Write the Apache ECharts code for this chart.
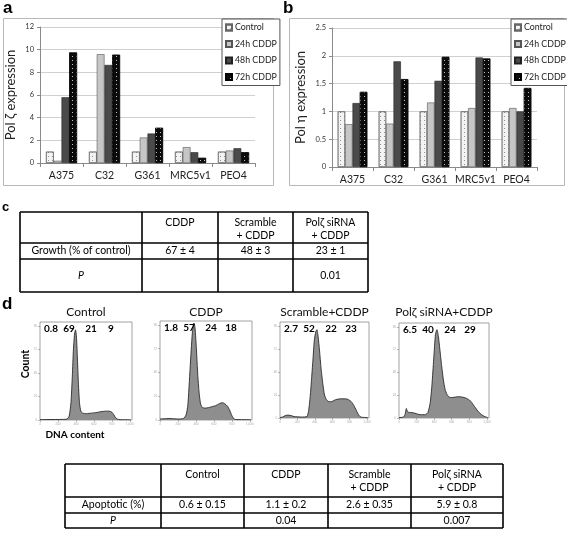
<!DOCTYPE html>
<html><head><meta charset="utf-8">
<script src="https://cdn.jsdelivr.net/npm/echarts@6/dist/echarts.min.js"></script>
<style>html,body{margin:0;padding:0;background:#fff}#c{width:567px;height:558px}</style>
</head><body><div id="c"></div>
<script>
// ---------- DATA ----------
const cellLines = ['A375', 'C32', 'G361', 'MRC5v1', 'PEO4'];
const seriesNames = ['Control', '24h CDDP', '48h CDDP', '72h CDDP'];
const zetaControl = [1, 1, 1, 1, 1];
const zeta24h = [0.2, 9.6, 2.25, 1.4, 1.1];
const zeta48h = [5.8, 8.65, 2.6, 0.95, 1.3];
const zeta72h = [9.75, 9.55, 3.1, 0.45, 0.95];
const etaControl = [1, 1, 1, 1, 1];
const eta24h = [0.77, 0.78, 1.16, 1.06, 1.06];
const eta48h = [1.15, 1.9, 1.55, 1.97, 1.0];
const eta72h = [1.35, 1.58, 1.98, 1.95, 1.42];
const zetaTicks = [0, 2, 4, 6, 8, 10, 12];
const etaTicks = [0, 0.5, 1, 1.5, 2, 2.5];

const growthHeader = ['', 'CDDP', 'Scramble\n+ CDDP', 'Polζ siRNA\n+ CDDP'];
const growthValues = ['Growth (% of control)', '67 ± 4', '48 ± 3', '23 ± 1'];
const growthP = ['P', '', '', '0.01'];

const apoHeader = ['', 'Control', 'CDDP', 'Scramble\n+ CDDP', 'Polζ siRNA\n+ CDDP'];
const apoValues = ['Apoptotic (%)', '0.6 ± 0.15', '1.1 ± 0.2', '2.6 ± 0.35', '5.9 ± 0.8'];
const apoP = ['P', '', '0.04', '', '0.007'];

const histTitles = ['Control', 'CDDP', 'Scramble+CDDP', 'Polζ siRNA+CDDP'];
const phasesControl = ['0.8', '69', '21', '9'];
const phasesCDDP = ['1.8', '57', '24', '18'];
const phasesScramble = ['2.7', '52', '22', '23'];
const phasesSiRNA = ['6.5', '40', '24', '29'];
const dnaTicks = [0, 200, 400, 600, 800, 1000];
const countTicks = [0, 24, 48, 72, 96];

// DNA content (channel) vs count (% of frame height)
const histControl = [[0,0.5],[100,0.5],[250,0.6],[300,1],[325,4],[345,18],[360,45],[372,72],[385,88],[395,92],[405,86],[415,66],[427,38],[440,17],[455,9],[475,7],[520,6.5],[570,7],[620,7.5],[680,8.5],[730,9],[770,9],[800,8],[820,5.5],[840,2.5],[860,1],[890,0.3],[1010,0.2]];
const histCDDP = [[0,1],[100,1.5],[200,1],[260,1.5],[290,5],[310,15],[335,52],[360,88],[378,98],[390,93],[405,72],[420,46],[435,28],[450,17],[468,13],[500,12],[540,12.5],[580,13.5],[620,14.5],[660,16.5],[695,17.5],[720,16.5],[750,14],[775,10],[795,5.5],[815,2],[840,0.5],[1010,0.3]];
const histScramble = [[0,0.5],[30,1],[60,2.5],[90,3],[130,2.5],[160,1.5],[250,1],[310,1.5],[330,8],[350,25],[365,43],[380,62],[395,81],[412,90],[425,92],[438,85],[455,70],[472,52],[492,36],[512,24],[535,19],[565,17],[595,17],[625,18.5],[660,19.5],[700,20],[740,20],[780,19.5],[820,17],[850,13],[878,8],[905,3],[930,1],[1010,0.3]];
const histSiRNA = [[0,0.5],[50,1],[70,4],[84,10],[95,7],[110,6],[160,5.5],[200,4.5],[240,3.5],[300,3.5],[330,6],[355,16],[375,35],[395,62],[415,88],[432,93],[448,86],[465,72],[485,55],[505,40],[525,30],[545,25],[570,22],[600,21.5],[640,22],[680,22.5],[720,22],[760,21],[800,19],[830,16],[860,12],[900,7],[940,3.5],[975,1.5],[1010,0.5]];

// ---------- STYLES / LAYOUT ----------
const FONT = 'Lato, "Noto Sans", sans-serif';
const barStyles = [
  {color: '#f3f3f3', borderColor: '#666', borderWidth: 0.6,
   decal: {symbol: 'rect', symbolSize: 1, dashArrayX: [1, 3], dashArrayY: [1, 3], color: 'rgba(120,120,120,0.8)'}},
  {color: '#c6c6c6', borderColor: '#555', borderWidth: 0.6},
  {color: '#4a4a4a', borderColor: '#222', borderWidth: 0.6},
  {color: '#0b0b0b', borderColor: '#000', borderWidth: 0.6,
   decal: {symbol: 'rect', symbolSize: 1, dashArrayX: [1, 3], dashArrayY: [1, 3], color: 'rgba(255,255,255,0.75)'}}
];

const chart = echarts.init(document.getElementById('c'), null, {renderer: 'canvas', width: 567, height: 558});

const grids = [
  {left: 40, top: 27, width: 215, height: 136},
  {left: 332, top: 28, width: 205, height: 139}
];
const histBoxes = [
  {left: 40, top: 322, width: 92, height: 98},
  {left: 160, top: 321, width: 92, height: 99},
  {left: 280, top: 322, width: 89, height: 96},
  {left: 399, top: 323, width: 90, height: 95}
];
histBoxes.forEach(b => grids.push(Object.assign({show: true, borderColor: '#8a8a8a', borderWidth: 0.8}, b)));

function catAxis(gi) {
  return {
    type: 'category', gridIndex: gi, data: cellLines,
    axisLine: {lineStyle: {color: '#8a8a8a', width: 1}},
    axisTick: {show: true, length: 4, lineStyle: {color: '#8a8a8a'}},
    axisLabel: {interval: 0, fontFamily: FONT, fontSize: 10.5, color: '#222', margin: 7}
  };
}
function valAxis(gi, ticks, name, gap) {
  return {
    type: 'value', gridIndex: gi, min: ticks[0], max: ticks[ticks.length - 1],
    interval: ticks[1] - ticks[0],
    name: name, nameLocation: 'middle', nameGap: gap,
    nameTextStyle: {fontFamily: FONT, fontSize: 13, color: '#222'},
    axisLine: {show: true, lineStyle: {color: '#8a8a8a'}},
    axisTick: {show: true, length: 3, lineStyle: {color: '#8a8a8a'}},
    axisLabel: {fontFamily: FONT, fontSize: 7.5, color: '#333', margin: 6},
    splitLine: {lineStyle: {color: '#c4c4c4', width: 0.8}}
  };
}

const xAxes = [catAxis(0), catAxis(1)];
const yAxes = [valAxis(0, zetaTicks, 'Pol ζ expression', 23), valAxis(1, etaTicks, 'Pol η expression', 25)];
histBoxes.forEach((b, i) => {
  xAxes.push({
    type: 'value', gridIndex: 2 + i, min: 0, max: 1024,
    axisLine: {show: false}, splitLine: {show: false},
    axisTick: {show: true, customValues: dnaTicks, length: 2, lineStyle: {color: '#888', width: 0.6}},
    axisLabel: {customValues: dnaTicks, fontSize: 3, color: '#aaa', margin: 3}
  });
  yAxes.push({
    type: 'value', gridIndex: 2 + i, min: 0, max: 100,
    axisLine: {show: false}, splitLine: {show: false},
    axisTick: {show: true, customValues: countTicks, length: 2, lineStyle: {color: '#888', width: 0.6}},
    axisLabel: {customValues: countTicks, fontSize: 3, color: '#aaa', margin: 3}
  });
});

const series = [];
[[zetaControl, zeta24h, zeta48h, zeta72h], [etaControl, eta24h, eta48h, eta72h]].forEach((sets, gi) => {
  sets.forEach((vals, k) => {
    series.push({
      type: 'bar', name: seriesNames[k], xAxisIndex: gi, yAxisIndex: gi, data: vals,
      barGap: '0%', barCategoryGap: '28%', itemStyle: barStyles[k],
      emphasis: {disabled: true}
    });
  });
});
[histControl, histCDDP, histScramble, histSiRNA].forEach((d, i) => {
  series.push({
    type: 'line', xAxisIndex: 2 + i, yAxisIndex: 2 + i, data: d, symbol: 'none', smooth: 0.2,
    lineStyle: {color: '#2a2a2a', width: 0.9},
    areaStyle: {color: '#8e8e8e', opacity: 1}, z: 3
  });
});

// ---------- GRAPHIC (frames, labels, tables) ----------
const graphic = [];
graphic.push({type: 'rect', shape: {x: 3.5, y: 18.5, width: 270, height: 167}, style: {fill: 'none', stroke: '#b8b8b8', lineWidth: 1}, z: -1});
graphic.push({type: 'rect', shape: {x: 289.5, y: 18.5, width: 275, height: 167}, style: {fill: 'none', stroke: '#b8b8b8', lineWidth: 1}, z: -1});
const panelLetters = [['a', 3, 0, 17], ['b', 283, 0, 17], ['c', 2, 201, 13], ['d', 2, 296, 17]];
panelLetters.forEach(p => graphic.push({type: 'text', left: p[1], top: p[2],
  style: {text: p[0], font: 'bold ' + p[3] + 'px "Liberation Sans", Arial, sans-serif', fill: '#000'}}));

function addTable(xs, ys, rows) {
  const x0 = xs[0], x1 = xs[xs.length - 1], y0 = ys[0], y1 = ys[ys.length - 1];
  ys.forEach(y => graphic.push({type: 'line', shape: {x1: x0, y1: y, x2: x1, y2: y}, style: {stroke: '#000', lineWidth: 1.6}}));
  xs.forEach(x => graphic.push({type: 'line', shape: {x1: x, y1: y0, x2: x, y2: y1}, style: {stroke: '#000', lineWidth: 1.6}}));
  rows.forEach((row, r) => {
    row.forEach((t, c) => {
      if (!t) return;
      const cx = (xs[c] + xs[c + 1]) / 2;
      const header = r === 0;
      const cy = header ? ys[0] + 4 : (ys[r] + ys[r + 1]) / 2;
      graphic.push({type: 'text', x: cx, y: cy,
        style: {text: t, align: 'center', verticalAlign: header ? 'top' : 'middle', lineHeight: 13,
          font: (t === 'P' ? 'italic ' : '') + '10.5px ' + FONT, fill: '#000'}});
    });
  });
}
addTable([20, 142, 218, 293, 368], [212, 243, 259, 292], [growthHeader, growthValues, growthP]);
addTable([65, 161, 244, 328, 411, 503], [464, 497, 513, 528], [apoHeader, apoValues, apoP]);

const histCenters = histBoxes.map(b => b.left + b.width / 2);
const phaseOffsets = [11, 29, 51, 71];
histTitles.forEach((t, i) => graphic.push({type: 'text', x: histCenters[i], y: 312,
  style: {text: t, align: 'center', verticalAlign: 'middle', font: '12px ' + FONT, fill: '#111'}}));
[phasesControl, phasesCDDP, phasesScramble, phasesSiRNA].forEach((ph, i) => {
  ph.forEach((v, k) => graphic.push({type: 'text', x: histBoxes[i].left + phaseOffsets[k], y: histBoxes[i].top + 7,
    style: {text: v, align: 'center', verticalAlign: 'middle', font: 'bold 10px ' + FONT, fill: '#000'}, z: 10}));
});
graphic.push({type: 'text', x: 26, y: 364, rotation: Math.PI / 2,
  style: {text: 'Count', align: 'center', verticalAlign: 'middle', font: 'bold 10.5px ' + FONT, fill: '#000'}});
graphic.push({type: 'text', x: 75, y: 435,
  style: {text: 'DNA content', align: 'center', verticalAlign: 'middle', font: 'bold 10px ' + FONT, fill: '#000'}});

const legendBase = {
  orient: 'vertical', data: seriesNames, icon: 'rect', itemWidth: 6, itemHeight: 6, itemGap: 5.5,
  borderColor: '#555', borderWidth: 1, borderRadius: 0, padding: [3, 3, 3, 3], backgroundColor: '#fff',
  textStyle: {fontFamily: FONT, fontSize: 8.8, color: '#222', lineHeight: 11, padding: [0, 0, 0, -2]},
  selectedMode: false
};

chart.setOption({
  animation: false,
  backgroundColor: '#fff',
  grid: grids,
  xAxis: xAxes,
  yAxis: yAxes,
  legend: [Object.assign({left: 222, top: 19}, legendBase), Object.assign({left: 511, top: 19}, legendBase)],
  series: series,
  graphic: graphic
});
</script></body></html>
